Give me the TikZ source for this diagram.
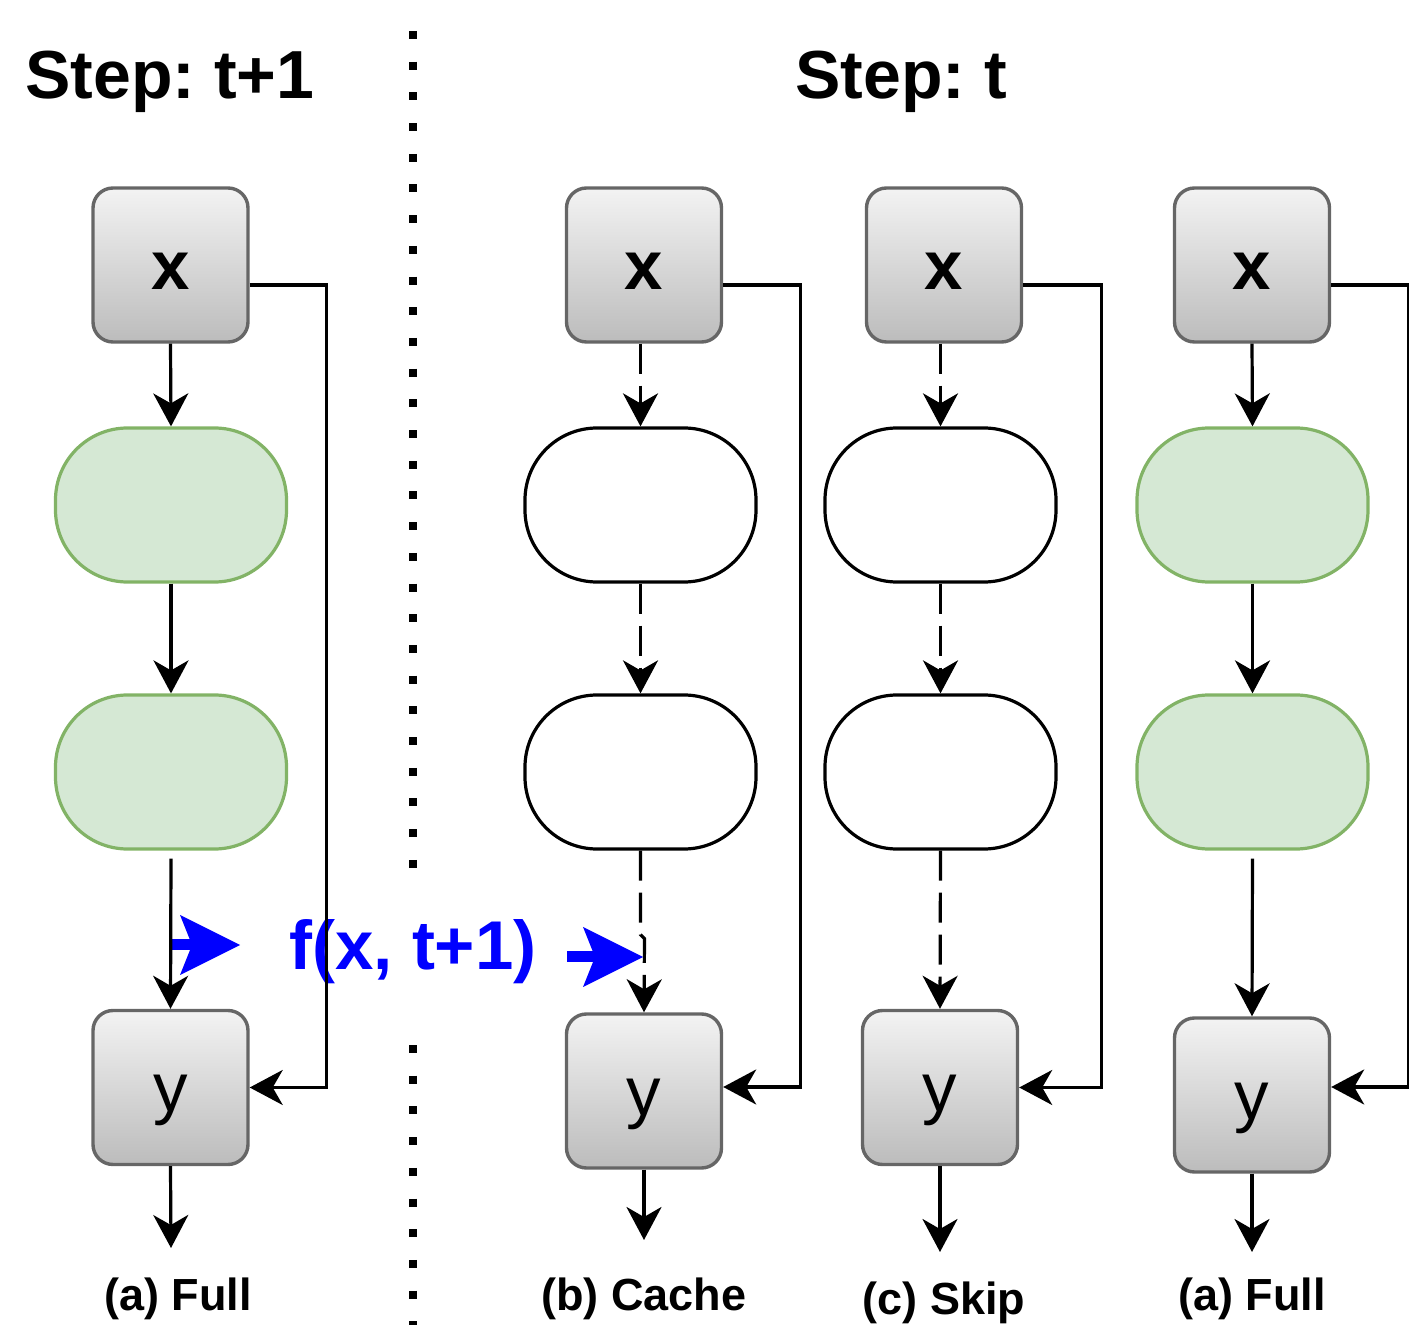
\documentclass[tikz,border=0pt]{standalone}
\usepackage{fontspec}
\setmainfont{Liberation Sans}
\usetikzlibrary{arrows.meta,calc}

\definecolor{boxtop}{RGB}{243,243,243}
\definecolor{boxbot}{RGB}{188,188,188}
\definecolor{boxline}{RGB}{102,102,102}
\definecolor{layfill}{RGB}{213,232,212}
\definecolor{layline}{RGB}{130,179,102}

\begin{document}
\frenchspacing
\begin{tikzpicture}[x=0.5pt,y=-0.5pt,
  io/.style={rectangle, rounded corners=10pt, draw=boxline, line width=1.7pt,
    top color=boxtop, bottom color=boxbot, minimum width=77.5pt,
    minimum height=77pt, inner sep=0pt},
  inbox/.style={io, text height=25pt, text depth=0pt,
    font=\bfseries\fontsize{34.5pt}{40pt}\selectfont},
  outbox/.style={io, text height=31pt, text depth=7pt,
    font=\fontsize{34.5pt}{40pt}\selectfont},
  layer/.style={rectangle, rounded corners=36pt, line width=1.6pt,
    minimum width=115.5pt, minimum height=77pt},
  active/.style={layer, draw=layline, fill=layfill},
  idle/.style={layer, draw=black, fill=white},
  flow/.style={-{Stealth[length=16.5pt,width=17.5pt,inset=5pt]},
    line width=1.6pt},
  skipflow/.style={flow, dash pattern=on 15pt off 6pt},
  reuse/.style={-{Stealth[length=30pt,width=30pt,inset=6pt,line width=0pt]},
    line width=5.5pt, draw=blue},
  sep/.style={line width=4pt, dash pattern=on 4pt off 11.35pt},
  heading/.style={anchor=base west, inner sep=0pt,
    font=\bfseries\fontsize{34pt}{40pt}\selectfont},
  caption/.style={anchor=base, inner sep=0pt,
    font=\bfseries\fontsize{22.5pt}{27pt}\selectfont}
]
\useasboundingbox (0,0) rectangle (1409,1325);

% step separator
\draw[sep] (413,31) -- (413,868);
\draw[sep] (413,1045) -- (413,1325);

% headings
\node[heading] (h1) at (25,99) {Step: t+1};
\node[heading] (h2) at (795,99) {Step: t};

% cached output handed over from step t+1
\node[anchor=base west, inner sep=0pt, text=blue,
  font=\bfseries\fontsize{34.5pt}{40pt}\selectfont] (fx) at (289,970) {f(x, t+1)};
\coordinate (rl0) at (171,945);
\coordinate (rl1) at (240,945);
\coordinate (rr0) at (567,957);
\coordinate (rr1) at (643,957);
\draw[reuse] (rl0) -- (rl1);
\draw[reuse] (rr0) -- (rr1);

% (a) Full, step t+1
\node[inbox] (x1) at (170.5,265) {x};
\node[active] (a1) at (171,505) {};
\node[active] (a2) at (171,772) {};
\node[outbox] (y1) at (170.5,1087.5) {y};
\coordinate (o1) at (171,1248);
\draw[flow] (x1.south) -- (a1.north);
\draw[flow] (a1.south) -- (a2.north);
\draw[flow] ([yshift=-4pt]a2.south) -- (y1.north);
\draw[flow] (y1.south) -- (o1);
\draw[flow] ([yshift=-10pt]x1.east) -- ++(77,0) |- (y1.east);
\node[caption] (l1) at (178,1310) {(a) Full};

% (b) Cache
\node[inbox] (x2) at (644,265) {x};
\node[idle] (b1) at (640.5,505) {};
\node[idle] (b2) at (640.5,772) {};
\node[outbox] (y2) at (644,1091) {y};
\coordinate (o2) at (644,1240);
\draw[skipflow] (x2.south -| b1.north) -- (b1.north);
\draw[skipflow] (b1.south) -- (b2.north);
\draw[skipflow] (b2.south) -- ++(0,84) -- ++(4,4) -- (y2.north);
\draw[flow] (y2.south) -- (o2);
\draw[flow] ([yshift=-10pt]x2.east) -- ++(77,0) |- ([yshift=2pt]y2.east);
\node[caption] (l2) at (644,1310) {(b) Cache};

% (c) Skip
\node[inbox] (x3) at (944,265) {x};
\node[idle] (c1) at (940.5,505) {};
\node[idle] (c2) at (940.5,772) {};
\node[outbox] (y3) at (940,1087.5) {y};
\coordinate (o3) at (940,1252);
\draw[skipflow] (x3.south -| c1.north) -- (c1.north);
\draw[skipflow] (c1.south) -- (c2.north);
\draw[skipflow] (c2.south) -- (y3.north);
\draw[flow] (y3.south) -- (o3);
\draw[flow] ([yshift=-10pt]x3.east) -- ++(78,0) |- (y3.east);
\node[caption] (l3) at (944,1314) {(c) Skip};

% (a) Full, step t
\node[inbox] (x4) at (1252,265) {x};
\node[active] (d1) at (1252.5,505) {};
\node[active] (d2) at (1252.5,772) {};
\node[outbox] (y4) at (1252,1095) {y};
\coordinate (o4) at (1252,1252);
\draw[flow] (x4.south) -- (d1.north);
\draw[flow] (d1.south) -- (d2.north);
\draw[flow] ([yshift=-4pt]d2.south) -- (y4.north);
\draw[flow] (y4.south) -- (o4);
\draw[flow] ([yshift=-10pt]x4.east) -- ++(77.5,0) |- ([yshift=4pt]y4.east);
\node[caption] (l4) at (1252,1310) {(a) Full};
\end{tikzpicture}
\end{document}
